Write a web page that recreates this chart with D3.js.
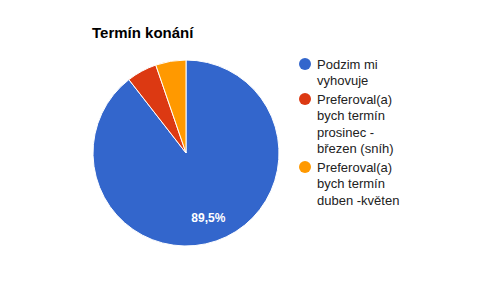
<!DOCTYPE html>
<html>
<head>
<meta charset="utf-8">
<script src="https://cdn.jsdelivr.net/npm/d3@7"></script>
<style>
  body { margin: 0; background: #fff; }
  svg { font-family: "Liberation Sans", Arial, sans-serif; }
</style>
</head>
<body>
<div id="chart"></div>
<script>
const categories = [
  ["Podzim mi", "vyhovuje"],
  ["Preferoval(a)", "bych termín", "prosinec -", "březen (sníh)"],
  ["Preferoval(a)", "bych termín", "duben -květen"]
];
const values = [17, 1, 1];
const colors = ["#3366cc", "#dc3912", "#ff9900"];
const title = "Termín konání";

const width = 492, height = 300;
const cx = 186, cy = 153, radius = 93;

const svg = d3.select("#chart").append("svg")
  .attr("width", width)
  .attr("height", height);

// Title
svg.append("text")
  .attr("x", 92)
  .attr("y", 38)
  .attr("font-size", "15px")
  .attr("font-weight", "bold")
  .attr("fill", "#000")
  .text(title);

const pie = d3.pie().sort(null).value(d => d);
const arcs = pie(values);
const total = d3.sum(values);

const arc = d3.arc().innerRadius(0).outerRadius(radius);
const labelArc = d3.arc().innerRadius(radius * 0.74).outerRadius(radius * 0.74);

const g = svg.append("g")
  .attr("transform", `translate(${cx},${cy})`);

g.selectAll("path")
  .data(arcs)
  .join("path")
  .attr("d", arc)
  .attr("fill", (d, i) => colors[i])
  .attr("stroke", "#fff")
  .attr("stroke-width", 1);

// Percent labels (only for large slices)
g.selectAll("text.pct")
  .data(arcs.filter(d => d.value / total > 0.1))
  .join("text")
  .attr("class", "pct")
  .attr("transform", d => `translate(${labelArc.centroid(d)})`)
  .attr("text-anchor", "middle")
  .attr("dy", "0.35em")
  .attr("font-size", "12px")
  .attr("font-weight", "bold")
  .attr("fill", "#fff")
  .text(d => (d.value / total * 100).toFixed(1).replace(".", ",") + "%");

// Legend
const legendX = 305;
const lineH = 16.5;
const groupGap = 2;
let y = 64;
categories.forEach((lines, i) => {
  const lg = svg.append("g");
  lg.append("circle")
    .attr("cx", legendX)
    .attr("cy", y)
    .attr("r", 6)
    .attr("fill", colors[i]);
  lines.forEach((t, j) => {
    lg.append("text")
      .attr("x", legendX + 12)
      .attr("y", y + j * lineH)
      .attr("dy", "0.35em")
      .attr("font-size", "13px")
      .attr("fill", "#222")
      .text(t);
  });
  y += lines.length * lineH + groupGap;
});
</script>
</body>
</html>
